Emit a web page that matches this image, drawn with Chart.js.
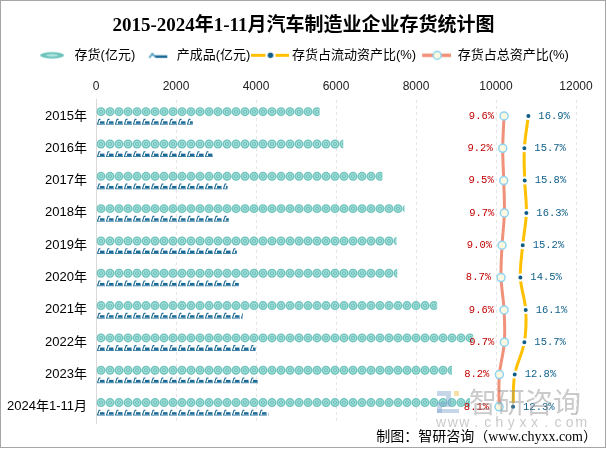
<!DOCTYPE html>
<html><head><meta charset="utf-8">
<script src="https://cdn.jsdelivr.net/npm/chart.js@4.4.1/dist/chart.umd.min.js"></script>
<style>html,body{margin:0;padding:0;background:#fff;}#wrap{width:607px;height:449px;}</style>
</head><body><div id="wrap"><canvas id="c" width="607" height="449"></canvas></div>
<script>
const categories = ['2015年','2016年','2017年','2018年','2019年','2020年','2021年','2022年','2023年','2024年1-11月'];
const inventory = [5590,6180,7160,7710,7510,7530,8530,9430,8900,9350];
const finishedGoods = [2420,2920,3290,3320,3520,3570,3670,3990,4070,4310];
const currentAssetRatio = [16.9,15.7,15.8,16.3,15.2,14.5,16.1,15.7,12.8,12.3];
const totalAssetRatio = [9.6,9.2,9.5,9.7,9.0,8.7,9.6,9.7,8.2,8.1];
const xTickValues = [0,2000,4000,6000,8000,10000,12000];
const seriesNames = ['存货(亿元)','产成品(亿元)','存货占流动资产比(%)','存货占总资产比(%)'];
const titleText = '2015-2024年1-11月汽车制造业企业存货统计图';
const footerText = '制图：智研咨询（www.chyxx.com）';

const SANS = '"Liberation Sans", "Noto Sans CJK SC", sans-serif';
const CJK = '"Noto Sans CJK SC", sans-serif';

function drawCoin(ctx, cx, cy, r) {
  ctx.beginPath(); ctx.arc(cx, cy, r, 0, Math.PI*2); ctx.fillStyle = '#6fc5be'; ctx.fill();
  ctx.beginPath(); ctx.arc(cx, cy, r*0.6, 0, Math.PI*2); ctx.strokeStyle = '#bfe8e4'; ctx.lineWidth = 0.8; ctx.stroke();
  ctx.beginPath(); ctx.arc(cx, cy, r*0.22, 0, Math.PI*2); ctx.fillStyle = '#a8dfda'; ctx.fill();
}
function drawCar(ctx, x, top, h) {
  ctx.strokeStyle = '#1c6a96'; ctx.fillStyle = '#1c6a96'; ctx.lineWidth = 1.1;
  ctx.beginPath(); ctx.moveTo(x + 1, top + h - 0.5); ctx.lineTo(x + 2.6, top + 0.8); ctx.lineTo(x + 4, top + 0.8); ctx.stroke();
  ctx.fillRect(x + 3.5, top + h*0.45, 4.5, h*0.4);
  ctx.fillRect(x + 0.5, top + h - 0.8, 8, 0.8);
}

function makeIcon(w, h, fn) {
  const c = document.createElement('canvas'); c.width = w; c.height = h;
  fn(c.getContext('2d')); return c;
}
const icons = [
  makeIcon(30, 13, g => {
    g.beginPath(); g.ellipse(14, 6.5, 12, 3.2, 0, 0, Math.PI*2); g.fillStyle = '#6fc5be'; g.fill();
    g.beginPath(); g.ellipse(14, 6.5, 6, 1.2, 0, 0, Math.PI*2); g.fillStyle = '#b8e6e2'; g.fill();
  }),
  makeIcon(30, 13, g => {
    g.strokeStyle = '#5fa8c8'; g.lineWidth = 2;
    g.beginPath(); g.moveTo(9, 9); g.lineTo(12, 5); g.lineTo(15, 8); g.stroke();
    g.fillStyle = '#1c6a96'; g.fillRect(15, 6.5, 12, 2.6);
  }),
  makeIcon(38, 13, g => {
    g.strokeStyle = '#ffc000'; g.lineWidth = 3;
    g.beginPath(); g.moveTo(0, 6.5); g.lineTo(14, 6.5); g.moveTo(24, 6.5); g.lineTo(38, 6.5); g.stroke();
    g.beginPath(); g.arc(19, 6.5, 2.8, 0, Math.PI*2); g.fillStyle = '#0d5d87'; g.fill();
  }),
  makeIcon(30, 13, g => {
    g.strokeStyle = '#f0917a'; g.lineWidth = 3.5;
    g.beginPath(); g.moveTo(1, 6.5); g.lineTo(30, 6.5); g.stroke();
    g.beginPath(); g.arc(16, 6.5, 4, 0, Math.PI*2); g.fillStyle = '#fdf8e0'; g.fill();
    g.strokeStyle = '#8ed4f2'; g.lineWidth = 1.5; g.stroke();
  })
];

const decor = {
  id: 'decor',
  beforeDraw(chart) {
    const ctx = chart.ctx; ctx.save(); ctx.fillStyle = '#fff'; ctx.fillRect(0, 0, chart.width, chart.height); ctx.restore();
  },
  beforeDatasetsDraw(chart) {
    const ctx = chart.ctx;
    [0, 1].forEach(di => {
      chart.getDatasetMeta(di).data.forEach(bar => {
        const p = bar.getProps(['x', 'y', 'base', 'height'], true);
        const left = Math.min(p.base, p.x), right = Math.max(p.base, p.x);
        const top = p.y - p.height / 2;
        ctx.save();
        ctx.beginPath(); ctx.rect(left, top - 1, right - left, p.height + 2); ctx.clip();
        const step = 9;
        for (let x = left; x < right; x += step) {
          if (di === 0) drawCoin(ctx, x + step / 2, p.y, p.height / 2 + 0.2);
          else drawCar(ctx, x, top, p.height);
        }
        ctx.restore();
      });
    });
  },
  afterDatasetsDraw(chart) {
    const ctx = chart.ctx;
    ctx.save();
    ctx.font = '10.5px "Liberation Mono", monospace';
    ctx.textBaseline = 'middle';
    chart.getDatasetMeta(2).data.forEach((pt, i) => {
      ctx.fillStyle = '#c00000'; ctx.textAlign = 'right';
      ctx.fillText(totalAssetRatio[i].toFixed(1) + '%', pt.x - 10, pt.y);
    });
    chart.getDatasetMeta(3).data.forEach((pt, i) => {
      ctx.fillStyle = '#0e5f8a'; ctx.textAlign = 'left';
      ctx.fillText(currentAssetRatio[i].toFixed(1) + '%', pt.x + 10, pt.y);
    });
    ctx.restore();
  },
  afterDraw(chart) {
    const ctx = chart.ctx;
    ctx.save();
    // watermark
    ctx.globalAlpha = 0.45;
    ctx.fillStyle = '#7fa3cf';
    ctx.fillRect(437, 391, 14, 5); ctx.fillRect(446, 396, 5, 6); ctx.fillRect(437, 402, 14, 5); ctx.fillRect(437, 407, 5, 6); ctx.fillRect(437, 409, 22, 4);
    ctx.fillStyle = '#f2b53a'; ctx.fillRect(454, 391, 5, 5);
    ctx.fillStyle = '#8a8a8a';
    ctx.font = '28px ' + CJK; ctx.textBaseline = 'middle'; ctx.textAlign = 'left';
    ctx.fillText('智研咨询', 469, 402);
    ctx.font = '14px "Liberation Sans", sans-serif'; ctx.textAlign = 'center';
    const wm = 'www.chyxx.com';
    for (let i = 0; i < wm.length; i++) ctx.fillText(wm[i], 441 + i * 11.7, 423);
    ctx.globalAlpha = 1;
    // footer
    ctx.fillStyle = '#000'; ctx.textAlign = 'right';
    ctx.font = '14px "Liberation Serif", "Noto Sans CJK SC", serif';
    ctx.fillText(footerText, 597, 437);
    // border
    ctx.strokeStyle = '#a6a6a6'; ctx.lineWidth = 1;
    ctx.strokeRect(0.5, 0.5, 605, 447);
    ctx.restore();
  }
};

new Chart(document.getElementById('c'), {
  type: 'bar',
  data: {
    labels: categories,
    datasets: [
      { type: 'bar', label: seriesNames[0], data: inventory, xAxisID: 'x', backgroundColor: 'rgba(0,0,0,0)', borderWidth: 0,
        categoryPercentage: 0.53, barPercentage: 1.0, order: 3 },
      { type: 'bar', label: seriesNames[1], data: finishedGoods, xAxisID: 'x', backgroundColor: 'rgba(0,0,0,0)', borderWidth: 0,
        categoryPercentage: 0.70, barPercentage: 0.53, order: 4 },
      { type: 'line', label: seriesNames[3], data: totalAssetRatio, xAxisID: 'x2', borderColor: '#f0917a', borderWidth: 3,
        tension: 0.35, pointRadius: 4, pointBackgroundColor: '#fdf8e0', pointBorderColor: '#8ed4f2', pointBorderWidth: 1.5, order: 1 },
      { type: 'line', label: seriesNames[2], data: currentAssetRatio, xAxisID: 'x2', borderColor: '#ffc000', borderWidth: 3,
        tension: 0.35, pointRadius: 3, pointBackgroundColor: '#0d5d87', pointBorderColor: '#ffffff', pointBorderWidth: 2, order: 2 }
    ]
  },
  options: {
    indexAxis: 'y',
    responsive: false,
    devicePixelRatio: 1,
    animation: false,
    layout: { padding: { left: 0, right: 0, top: 0, bottom: 26 } },
    scales: {
      x: {
        position: 'top', min: 0, max: 12000,
        afterBuildTicks: s => { s.ticks = xTickValues.map(v => ({ value: v })); },
        afterFit: s => { s.height = 28; },
        ticks: { font: { family: SANS, size: 12 }, color: '#222', padding: 6, callback: v => String(v) },
        grid: { color: '#e6e6e6', drawTicks: false },
        border: { display: false, dash: [3, 3] }
      },
      x2: { display: false, min: -112.9, max: 31.2 },
      y: {
        afterFit: s => { s.width = 96; },
        ticks: { font: { family: SANS, size: 13 }, color: '#000', padding: 9 },
        grid: { display: false, drawTicks: false },
        border: { display: true, color: '#d9d9d9' }
      },
      yRight: {
        type: 'category', position: 'right', display: true,
        afterFit: s => { s.width = 31; },
        ticks: { display: false }, grid: { display: false, drawTicks: false }, border: { display: false }
      }
    },
    plugins: {
      title: { display: true, text: titleText, color: '#000',
        font: { family: '"Liberation Serif", "Noto Sans CJK SC", serif', size: 19, weight: 'bold' },
        padding: { top: 15, bottom: 6 } },
      legend: {
        display: true,
        labels: {
          usePointStyle: true, pointStyleWidth: 30, padding: 5, color: '#000',
          font: { family: SANS, size: 13 },
          generateLabels: chart => [0, 1, 2, 3].map(k => ({
            text: seriesNames[k], pointStyle: icons[k], datasetIndex: k, hidden: false,
            fillStyle: 'rgba(0,0,0,0)', strokeStyle: 'rgba(0,0,0,0)', lineWidth: 0, fontColor: '#000'
          }))
        }
      },
      tooltip: { enabled: false }
    }
  },
  plugins: [decor]
});
</script>
</body></html>
